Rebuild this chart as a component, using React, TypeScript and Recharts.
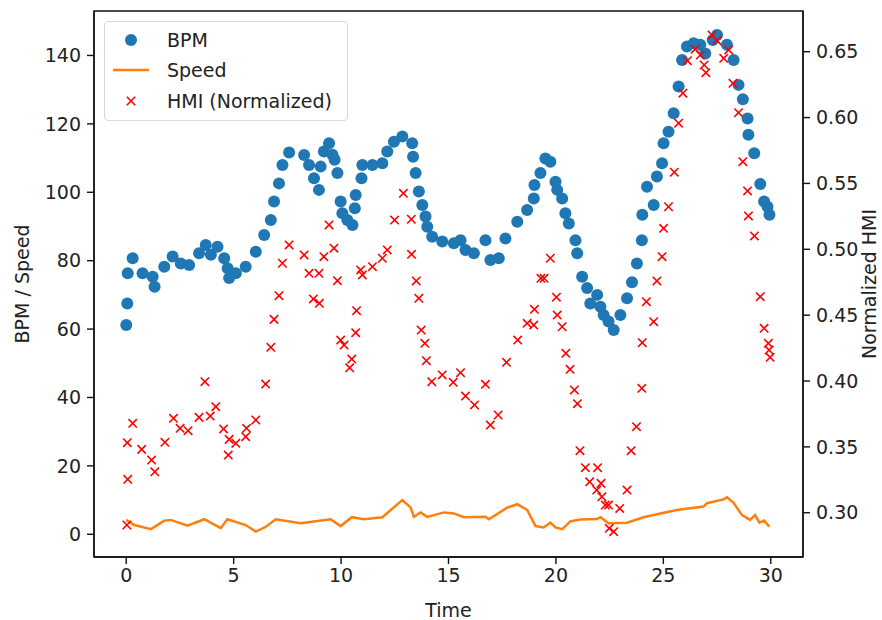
import React from "react";
import {
  ComposedChart,
  XAxis,
  YAxis,
  Scatter,
  Line,
  ReferenceArea,
} from "recharts";

const FONT = "DejaVu Sans, sans-serif";
const BLUE = "#1f77b4";
const ORANGE = "#ff7f0e";
const RED = "#ff0000";

// BPM samples (time, beats per minute)
const bpmTime = [
  0, 0.05, 0.07, 0.3, 0.76, 1.23, 1.32, 1.77, 2.16, 2.54, 2.93, 3.39, 3.7, 3.94, 4.25, 4.56, 4.72, 4.79,
  5.1, 5.56, 6.03, 6.42, 6.73, 6.88, 7.11, 7.27, 7.58, 8.28, 8.51, 8.74, 8.97, 9.05, 9.2, 9.44, 9.6, 9.7,
  9.83, 9.98, 10.06, 10.29, 10.53, 10.64, 10.68, 10.95, 10.99, 11.46, 11.92, 12.15, 12.46, 12.85, 13.31,
  13.35, 13.47, 13.62, 13.78, 13.93, 14.01, 14.24, 14.71, 15.25, 15.56, 15.79, 16.18, 16.72, 16.95, 17.34,
  17.65, 18.2, 18.66, 18.97, 19.0, 19.28, 19.51, 19.74, 19.98, 20.06, 20.29, 20.44, 20.6, 20.91, 20.99,
  21.22, 21.45, 21.6, 21.92, 22.07, 22.22, 22.45, 22.69, 23.0, 23.31, 23.54, 23.77, 24.0, 24.02, 24.24,
  24.55, 24.7, 24.94, 25.01, 25.24, 25.48, 25.71, 25.87, 26.1, 26.41, 26.72, 26.95, 27.3, 27.5, 27.96,
  28.27, 28.5, 28.7, 28.92, 28.96, 29.23, 29.51, 29.69, 29.85, 29.94,
];
const bpmValue = [
  61.2, 67.5, 76.3, 80.7, 76.3, 75.3, 72.4, 78.2, 81.2, 79.2, 78.7, 82.2, 84.6, 81.7, 84.1, 80.7, 77.8, 74.9,
  76.3, 78.2, 82.6, 87.5, 91.9, 97.3, 102.6, 108.0, 111.6, 110.9, 108.0, 104.1, 100.7, 107.5, 111.9, 114.3,
  111.0, 109.5, 105.6, 97.3, 93.9, 91.9, 90.4, 95.3, 99.2, 104.1, 108.0, 108.0, 108.5, 111.9, 114.8, 116.3,
  114.3, 110.4, 105.6, 100.2, 96.3, 92.9, 89.9, 87.0, 85.6, 85.1, 86.0, 83.1, 82.2, 86.0, 80.2, 80.7, 86.5,
  91.4, 94.8, 98.2, 102.1, 105.6, 109.9, 108.9, 103.1, 100.7, 98.2, 93.9, 90.9, 86.0, 82.2, 75.3, 72.0,
  67.5, 70.0, 66.5, 64.1, 62.2, 59.7, 64.1, 69.0, 73.7, 79.2, 86.0, 93.4, 101.6, 96.3, 104.6, 108.5, 114.3,
  117.7, 123.1, 130.9, 138.7, 142.6, 143.6, 143.1, 140.6, 144.5, 146.0, 143.1, 138.7, 131.4, 127.2, 121.6,
  116.8, 111.4, 102.4, 97.3, 95.8, 93.4,
];

// Speed trace
const speedTime = [
  0, 0.37, 1.15, 1.77, 2.08, 2.85, 3.63, 4.4, 4.71, 5.56, 6.03, 6.5, 6.96, 8.12, 9.51, 9.98, 10.5, 11.06,
  11.92, 12.85, 13.24, 13.39, 13.7, 14.01, 14.79, 15.25, 15.72, 16.72, 16.88, 17.73, 18.2, 18.66, 19.05,
  19.43, 19.74, 19.98, 20.3, 20.67, 21.14, 21.91, 22.07, 22.45, 23.31, 24.08, 24.86, 25.63, 26.87, 27.03,
  27.8, 27.96, 28.27, 28.66, 29.04, 29.27, 29.47, 29.69, 29.94,
];
const speedValue = [
  4.2, 2.7, 1.5, 4.0, 4.2, 2.5, 4.4, 1.8, 4.4, 2.7, 0.8, 2.2, 4.4, 3.2, 4.4, 2.4, 5.0, 4.4, 5.0, 10.0, 7.8,
  5.1, 6.4, 5.1, 6.4, 6.1, 5.0, 5.1, 4.4, 7.8, 8.8, 7.1, 2.4, 2.0, 3.4, 2.0, 1.5, 3.8, 4.3, 4.5, 5.0, 3.2,
  3.4, 5.0, 6.1, 7.1, 8.1, 9.1, 10.2, 10.8, 9.2, 5.6, 4.2, 5.6, 3.4, 4.0, 2.2,
];

// HMI (normalized), right axis
const hmiTime = [
  0.03, 0.07, 0.05, 0.3, 0.72, 1.18, 1.33, 1.8, 2.2, 2.51, 2.88, 3.39, 3.66, 3.91, 4.17, 4.53, 4.79, 4.75,
  5.1, 5.56, 5.6, 6.03, 6.49, 6.73, 6.88, 7.11, 7.27, 7.58, 8.28, 8.51, 8.71, 8.97, 8.99, 9.2, 9.44, 9.67,
  9.83, 9.98, 10.14, 10.4, 10.5, 10.68, 10.72, 10.91, 10.99, 11.46, 11.92, 12.15, 12.49, 12.9, 13.27, 13.28,
  13.5, 13.62, 13.73, 13.9, 13.97, 14.22, 14.71, 15.22, 15.56, 15.79, 16.21, 16.72, 16.95, 17.31, 17.7,
  18.22, 18.66, 18.97, 19.0, 19.3, 19.45, 19.74, 20.02, 20.06, 20.29, 20.46, 20.66, 20.86, 21.0, 21.12,
  21.37, 21.57, 21.94, 21.9, 22.1, 22.14, 22.3, 22.45, 22.48, 22.69, 22.97, 23.31, 23.5, 23.75, 24.0, 24.02,
  24.21, 24.55, 24.7, 24.94, 25.01, 25.24, 25.51, 25.71, 25.91, 26.12, 26.48, 26.72, 26.9, 26.98, 27.26,
  27.5, 27.81, 28.04, 28.24, 28.5, 28.7, 28.92, 28.96, 29.24, 29.51, 29.69, 29.89, 29.92, 29.97,
];
const hmiValue = [
  0.2907, 0.3254, 0.3532, 0.3679, 0.3481, 0.34, 0.3311, 0.3535, 0.3717, 0.3641, 0.3623, 0.3724, 0.3995,
  0.3734, 0.3805, 0.3636, 0.3557, 0.3438, 0.3527, 0.3577, 0.3641, 0.3704, 0.3977, 0.4256, 0.4468, 0.4648,
  0.4894, 0.5033, 0.4957, 0.4818, 0.4623, 0.4818, 0.459, 0.4944, 0.5185, 0.5008, 0.4762, 0.4311, 0.4273,
  0.41, 0.4167, 0.4367, 0.4534, 0.4843, 0.4805, 0.4868, 0.4932, 0.4995, 0.5222, 0.5425, 0.5228, 0.4962,
  0.476, 0.4628, 0.4387, 0.4286, 0.4154, 0.3995, 0.4046, 0.399, 0.4063, 0.3886, 0.3818, 0.3975, 0.3666,
  0.3742, 0.4142, 0.4311, 0.4438, 0.4425, 0.4544, 0.478, 0.478, 0.4932, 0.4636, 0.4501, 0.4412, 0.421,
  0.4089, 0.3932, 0.3828, 0.3471, 0.3342, 0.3235, 0.3342, 0.3172, 0.3223, 0.3121, 0.3058, 0.3058, 0.2882,
  0.2856, 0.3033, 0.3172, 0.3471, 0.3653, 0.3945, 0.4291, 0.4602, 0.445, 0.476, 0.4944, 0.5159, 0.5323,
  0.5585, 0.5957, 0.6185, 0.6432, 0.6519, 0.6475, 0.6399, 0.6341, 0.6627, 0.6584, 0.645, 0.6513, 0.626,
  0.6037, 0.5665, 0.5443, 0.5253, 0.5101, 0.464, 0.44, 0.4286, 0.4235, 0.418,
];

const xTicks = [0, 5, 10, 15, 20, 25, 30];
const leftTicks = [0, 20, 40, 60, 80, 100, 120, 140];
const rightTicks = [0.3, 0.35, 0.4, 0.45, 0.5, 0.55, 0.6, 0.65];

const bpmData = bpmTime.map((t, i) => ({ t, bpm: bpmValue[i] }));
const speedData = speedTime.map((t, i) => ({ t, speed: speedValue[i] }));
const hmiData = hmiTime.map((t, i) => ({ t, hmi: hmiValue[i] }));

const X_DOMAIN: [number, number] = [-1.5, 31.5];
const LEFT_DOMAIN: [number, number] = [-6.64, 153];
const RIGHT_DOMAIN: [number, number] = [0.2664, 0.6809];

const TEXT = "#222";
const TICK = { fontSize: 19, fill: TEXT, fontFamily: FONT };
const AXIS_LINE = { stroke: "#111", strokeWidth: 1.4 };

const Dot = (p: any) => <circle cx={p.cx} cy={p.cy} r={6} fill={BLUE} />;

const Cross = (p: any) => {
  const s = 4.2;
  return (
    <g stroke={RED} strokeWidth={1.6}>
      <line x1={p.cx - s} y1={p.cy - s} x2={p.cx + s} y2={p.cy + s} />
      <line x1={p.cx - s} y1={p.cy + s} x2={p.cx + s} y2={p.cy - s} />
    </g>
  );
};

function ChartLegend() {
  const row = (center: number, marker: React.ReactNode, text: string) => (
    <div style={{ position: "absolute", left: 0, top: center - 12, height: 24, width: "100%" }}>
      <svg width={50} height={24} style={{ position: "absolute", left: 4, top: 0 }}>
        {marker}
      </svg>
      <span
        style={{
          position: "absolute",
          left: 62,
          top: 0,
          lineHeight: "24px",
          fontSize: 19,
          fontFamily: FONT,
          color: TEXT,
          whiteSpace: "nowrap",
        }}
      >
        {text}
      </span>
    </div>
  );
  return (
    <div
      style={{
        position: "absolute",
        left: 104,
        top: 21,
        width: 242,
        height: 98,
        border: "1px solid #d9d9d9",
        borderRadius: 4,
        background: "rgba(255,255,255,0.8)",
      }}
    >
      {row(18, <circle cx={22} cy={12} r={6} fill={BLUE} />, "BPM")}
      {row(48, <line x1={4} y1={12} x2={40} y2={12} stroke={ORANGE} strokeWidth={2.5} />, "Speed")}
      {row(79, <Cross cx={22} cy={12} />, "HMI (Normalized)")}
    </div>
  );
}

export default function App() {
  return (
    <div style={{ position: "absolute", left: 0, top: 0, width: 882, height: 620, background: "#fff" }}>
      <ComposedChart width={882} height={620} margin={{ top: 11, right: 0, bottom: 0, left: 0 }}>
        <XAxis
          dataKey="t"
          type="number"
          domain={X_DOMAIN}
          ticks={xTicks}
          allowDataOverflow
          height={63}
          tick={TICK}
          tickSize={7}
          tickMargin={5}
          axisLine={AXIS_LINE}
          tickLine={AXIS_LINE}
          label={{ value: "Time", position: "insideBottom", offset: 3, style: TICK }}
        />
        <YAxis
          yAxisId="left"
          type="number"
          domain={LEFT_DOMAIN}
          ticks={leftTicks}
          allowDataOverflow
          width={94}
          tick={TICK}
          tickSize={7}
          tickMargin={6}
          axisLine={AXIS_LINE}
          tickLine={AXIS_LINE}
          label={{
            value: "BPM / Speed",
            angle: -90,
            position: "insideLeft",
            offset: 22,
            style: { ...TICK, textAnchor: "middle" },
          }}
        />
        <YAxis
          yAxisId="right"
          orientation="right"
          type="number"
          domain={RIGHT_DOMAIN}
          ticks={rightTicks}
          allowDataOverflow
          width={79}
          tick={TICK}
          tickSize={7}
          tickMargin={6}
          tickFormatter={(v: number) => v.toFixed(2)}
          axisLine={AXIS_LINE}
          tickLine={AXIS_LINE}
          label={{
            value: "Normalized HMI",
            angle: -90,
            position: "insideRight",
            offset: 13,
            style: { ...TICK, textAnchor: "middle" },
          }}
        />
        <ReferenceArea
          yAxisId="left"
          x1={X_DOMAIN[0]}
          x2={X_DOMAIN[1]}
          y1={LEFT_DOMAIN[0]}
          y2={LEFT_DOMAIN[1]}
          fill="none"
          stroke="#111"
          strokeWidth={1.4}
          ifOverflow="visible"
        />
        <Scatter
          name="BPM"
          data={bpmData}
          dataKey="bpm"
          yAxisId="left"
          fill={BLUE}
          shape={Dot}
          isAnimationActive={false}
        />
        <Line
          name="Speed"
          data={speedData}
          dataKey="speed"
          yAxisId="left"
          type="linear"
          stroke={ORANGE}
          strokeWidth={2.5}
          dot={false}
          activeDot={false}
          isAnimationActive={false}
        />
        <Scatter
          name="HMI (Normalized)"
          data={hmiData}
          dataKey="hmi"
          yAxisId="right"
          fill={RED}
          shape={Cross}
          isAnimationActive={false}
        />
      </ComposedChart>
      <ChartLegend />
    </div>
  );
}
